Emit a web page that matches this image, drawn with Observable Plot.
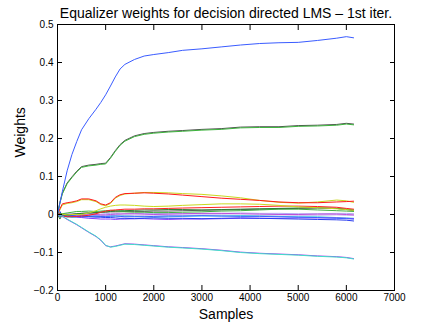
<!DOCTYPE html>
<html>
<head>
<meta charset="utf-8">
<script src="https://cdn.jsdelivr.net/npm/d3@7"></script>
<script src="https://cdn.jsdelivr.net/npm/@observablehq/plot@0.6"></script>
<style>
  html, body { margin: 0; padding: 0; background: #fff; }
  #chart svg { display: block; }
</style>
</head>
<body>
<div id="chart"></div>
<script>
const title = "Equalizer weights for decision directed LMS \u2013 1st iter.";
const xLabel = "Samples";
const yLabel = "Weights";
const xTicks = [0, 1000, 2000, 3000, 4000, 5000, 6000, 7000];
const yTicks = [-0.2, -0.1, 0, 0.1, 0.2, 0.3, 0.4, 0.5];

const samples = [0, 50, 100, 200, 300, 400, 500, 650, 800, 900, 1000, 1100, 1200, 1300, 1400, 1600, 1800, 2000, 2300, 2600, 3000, 3400, 3800, 4200, 4600, 5000, 5400, 5800, 6000, 6150];

const wBlue = [0, 0.03, 0.06, 0.115, 0.158, 0.192, 0.223, 0.252, 0.277, 0.295, 0.315, 0.338, 0.362, 0.383, 0.395, 0.408, 0.417, 0.421, 0.426, 0.432, 0.436, 0.441, 0.446, 0.450, 0.452, 0.453, 0.458, 0.464, 0.468, 0.465];
const wGray = [0, 0.032, 0.056, 0.083, 0.099, 0.114, 0.126, 0.130, 0.132, 0.134, 0.135, 0.150, 0.168, 0.184, 0.195, 0.207, 0.213, 0.216, 0.219, 0.221, 0.224, 0.226, 0.230, 0.231, 0.231, 0.234, 0.235, 0.237, 0.240, 0.238];
const wGreen = [0, 0.03, 0.054, 0.081, 0.097, 0.112, 0.124, 0.128, 0.130, 0.132, 0.133, 0.148, 0.166, 0.182, 0.193, 0.205, 0.211, 0.214, 0.217, 0.219, 0.222, 0.224, 0.228, 0.229, 0.229, 0.232, 0.233, 0.235, 0.238, 0.236];
const wYellow = [0, 0.012, 0.025, 0.029, 0.031, 0.034, 0.039, 0.039, 0.034, 0.026, 0.023, 0.029, 0.043, 0.050, 0.054, 0.056, 0.058, 0.058, 0.057, 0.055, 0.053, 0.049, 0.044, 0.037, 0.032, 0.030, 0.033, 0.038, 0.036, 0.032];
const wRed = [0, 0.015, 0.028, 0.031, 0.033, 0.036, 0.041, 0.041, 0.036, 0.028, 0.025, 0.031, 0.045, 0.052, 0.055, 0.056, 0.057, 0.056, 0.054, 0.051, 0.047, 0.043, 0.040, 0.037, 0.033, 0.031, 0.031, 0.033, 0.034, 0.035];
const wYellow2 = [0, -0.002, 0.001, -0.001, 0, 0, 0, 0.004, 0.010, 0.015, 0.019, 0.022, 0.024, 0.025, 0.025, 0.024, 0.022, 0.021, 0.022, 0.024, 0.026, 0.028, 0.028, 0.027, 0.024, 0.020, 0.018, 0.015, 0.013, 0.011];
const wRed2 = [0, 0.002, -0.004, -0.006, -0.006, -0.005, -0.004, -0.002, 0.002, 0.006, 0.009, 0.011, 0.012, 0.013, 0.014, 0.014, 0.015, 0.015, 0.016, 0.017, 0.018, 0.019, 0.020, 0.021, 0.022, 0.022, 0.021, 0.019, 0.016, 0.014];
const wDarkGreen = [0, -0.012, 0, -0.002, 0, 0.002, 0.003, 0.004, 0.005, 0.006, 0.007, 0.008, 0.009, 0.010, 0.010, 0.011, 0.012, 0.012, 0.013, 0.013, 0.012, 0.013, 0.014, 0.015, 0.016, 0.017, 0.018, 0.016, 0.014, 0.012];
const wDarkGray = [0, 0, 0.001, 0, 0.001, 0.002, 0.003, 0.004, 0.005, 0.006, 0.006, 0.007, 0.007, 0.007, 0.008, 0.008, 0.008, 0.009, 0.009, 0.010, 0.011, 0.012, 0.013, 0.014, 0.015, 0.016, 0.017, 0.016, 0.013, 0.010];
const wGreen2 = [0, 0.003, 0.002, 0.004, 0.006, 0.008, 0.008, 0.009, 0.008, 0.009, 0.010, 0.011, 0.010, 0.008, 0.007, 0.006, 0.006, 0.005, 0.005, 0.006, 0.007, 0.009, 0.010, 0.012, 0.014, 0.014, 0.012, 0.010, 0.009, 0.008];
const wLavender = [0, -0.002, 0.001, 0.002, 0.001, 0, 0.001, 0.002, 0.002, 0.001, 0.002, 0.003, 0.003, 0.002, 0.001, 0.002, 0.003, 0.003, 0.002, 0.002, 0.003, 0.003, 0.004, 0.003, 0.003, 0.002, 0.002, 0.003, 0.003, 0.002];
const wLavender2 = [0, -0.003, -0.001, -0.002, -0.003, -0.002, -0.002, -0.001, -0.002, -0.003, -0.002, -0.002, -0.001, -0.002, -0.003, -0.002, -0.002, -0.001, -0.002, -0.002, -0.001, -0.001, -0.002, -0.002, -0.001, -0.002, -0.002, -0.001, -0.002, -0.002];
const wMagenta = [0, -0.004, -0.006, -0.003, -0.002, -0.001, 0, 0.001, 0, -0.001, -0.001, 0, 0.001, 0.001, 0.002, 0.002, 0.001, 0, 0.001, 0.002, 0.003, 0.003, 0.002, 0.001, 0, 0, 0.001, 0.001, 0, -0.001];
const wCyan2 = [0, 0.002, -0.004, -0.006, -0.008, -0.007, -0.006, -0.005, -0.005, -0.006, -0.006, -0.005, -0.004, -0.004, -0.004, -0.005, -0.006, -0.007, -0.006, -0.005, -0.004, -0.004, -0.003, -0.004, -0.005, -0.006, -0.006, -0.008, -0.009, -0.010];
const wPurple2 = [0, -0.005, -0.003, -0.002, -0.005, -0.007, -0.008, -0.010, -0.011, -0.012, -0.012, -0.012, -0.013, -0.012, -0.012, -0.011, -0.011, -0.012, -0.013, -0.012, -0.012, -0.011, -0.010, -0.010, -0.010, -0.009, -0.009, -0.009, -0.010, -0.011];
const wBlue2 = [0, -0.006, -0.002, -0.002, -0.003, -0.004, -0.003, -0.004, -0.004, -0.005, -0.005, -0.004, -0.004, -0.005, -0.006, -0.006, -0.006, -0.005, -0.004, -0.004, -0.003, -0.004, -0.005, -0.005, -0.006, -0.007, -0.008, -0.010, -0.011, -0.012];
const wBlue3 = [0, 0.008, -0.004, -0.006, -0.004, -0.005, -0.006, -0.006, -0.007, -0.007, -0.008, -0.008, -0.009, -0.010, -0.010, -0.011, -0.010, -0.009, -0.010, -0.010, -0.011, -0.010, -0.009, -0.010, -0.011, -0.012, -0.013, -0.014, -0.015, -0.017];
const wPurple = [0, -0.003, -0.005, -0.013, -0.020, -0.027, -0.035, -0.047, -0.058, -0.068, -0.082, -0.085, -0.083, -0.080, -0.077, -0.078, -0.080, -0.082, -0.085, -0.087, -0.090, -0.094, -0.099, -0.102, -0.104, -0.106, -0.109, -0.111, -0.113, -0.116];
const wCyan = [0, -0.002, -0.004, -0.012, -0.019, -0.026, -0.034, -0.046, -0.057, -0.067, -0.081, -0.086, -0.084, -0.081, -0.078, -0.079, -0.081, -0.083, -0.086, -0.088, -0.091, -0.095, -0.100, -0.103, -0.105, -0.107, -0.110, -0.112, -0.114, -0.117];

const seriesList = [
  ["lavender", wLavender, "#b4a8f4"],
  ["lavender2", wLavender2, "#c0b4f0"],
  ["magenta", wMagenta, "#c050d8"],
  ["cyan2", wCyan2, "#40d0e0"],
  ["purple2", wPurple2, "#8a3cff"],
  ["blue2", wBlue2, "#4060ff"],
  ["blue3", wBlue3, "#2a3cf0"],
  ["darkgray", wDarkGray, "#606060"],
  ["green2", wGreen2, "#40b040"],
  ["darkgreen", wDarkGreen, "#2e7d32"],
  ["red2", wRed2, "#ff2020"],
  ["yellow2", wYellow2, "#c8d820"],
  ["yellow", wYellow, "#c8d820"],
  ["red", wRed, "#ff1a1a"],
  ["purple", wPurple, "#a040f0"],
  ["cyan", wCyan, "#40e0c8"],
  ["gray", wGray, "#505050"],
  ["green", wGreen, "#3cb43c"],
  ["blue", wBlue, "#3a5cff"]
];

const rows = seriesList.flatMap(([name, vals]) => vals.map((v, i) => ({name, x: samples[i], y: v})));
const colorDomain = seriesList.map(d => d[0]);
const colorRange = seriesList.map(d => d[2]);

const fmtY = d => d === 0 ? "0" : d3.format(".1f")(d);

const chart = Plot.plot({
  width: 436,
  height: 328,
  marginLeft: 57,
  marginRight: 42,
  marginTop: 24,
  marginBottom: 38,
  style: {fontFamily: "'Liberation Sans', Arial, Helvetica, sans-serif", background: "#fff"},
  x: {domain: [0, 7000], ticks: xTicks},
  y: {domain: [-0.2, 0.5], ticks: yTicks},
  color: {domain: colorDomain, range: colorRange},
  marks: [
    Plot.lineY(rows, {x: "x", y: "y", z: "name", stroke: "name", strokeWidth: 1}),
    Plot.frame({stroke: "#000", strokeWidth: 1}),
    Plot.axisX(xTicks, {anchor: "bottom", tickSize: -5, tickPadding: 8, fontSize: 10, fill: "#000", stroke: "#000", tickFormat: d => String(d), label: null}),
    Plot.axisX(xTicks, {anchor: "top", tickSize: -5, tickFormat: () => "", label: null, stroke: "#000"}),
    Plot.axisY(yTicks, {anchor: "left", tickSize: -5, tickPadding: 9, fontSize: 10, fill: "#000", stroke: "#000", tickFormat: fmtY, label: null}),
    Plot.axisY(yTicks, {anchor: "right", tickSize: -5, tickFormat: () => "", label: null, stroke: "#000"}),
    Plot.text([title], {frameAnchor: "top", lineAnchor: "middle", dy: -11, fontSize: 14, fill: "#000", text: d => d}),
    Plot.text([xLabel], {frameAnchor: "bottom", lineAnchor: "middle", dy: 24, fontSize: 14, fill: "#000", text: d => d}),
    Plot.text([yLabel], {frameAnchor: "left", dx: -37, rotate: -90, fontSize: 14, fill: "#000", text: d => d})
  ]
});
document.getElementById("chart").appendChild(chart);
</script>
</body>
</html>
